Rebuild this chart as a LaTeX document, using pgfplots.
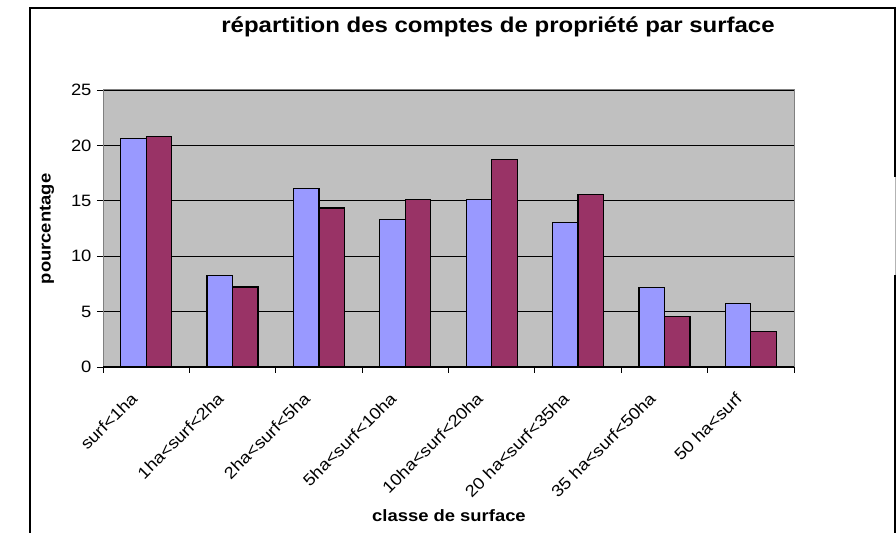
\documentclass[border=0pt]{standalone}
\usepackage{fontspec}
\setmainfont[FakeStretch=1.12]{Liberation Sans}
\usepackage{pgfplots}
\pgfplotsset{compat=1.18}

\definecolor{serieA}{HTML}{9999FF}
\definecolor{serieB}{HTML}{993366}
\definecolor{fond}{HTML}{C0C0C0}
\definecolor{bord}{HTML}{808080}

\begin{document}
\begin{tikzpicture}[x=1bp,y=1bp]
\useasboundingbox (-103,-166) rectangle (793,367);
% cadre du graphique
\draw[line width=1.5bp] (-73,-170) -- (-73,359) -- (792,359) -- (792,190);
\draw[line width=1bp, bord!60] (792,190) -- (792,92);
\draw[line width=1.5bp] (792,92) -- (792,-170);

\begin{axis}[
    at={(0,0)}, anchor=south west,
    scale only axis,
    width=691bp, height=277bp,
    ybar=0pt, bar width=25.5bp,
    xmin=-0.5, xmax=7.5,
    ymin=0, ymax=25,
    ytick={0,5,...,25},
    xtick={0,...,7},
    xticklabels={surf<1ha, 1ha<surf<2ha, 2ha<surf<5ha, 5ha<surf<10ha,
        10ha<surf<20ha, 20 ha<surf<35ha, 35 ha<surf<50ha, 50 ha<surf},
    minor xtick={-0.5,0.5,...,7.5},
    major x tick style={draw=none},
    xtick pos=bottom, ytick pos=left,
    tick align=outside,
    major tick length=6bp, minor tick length=6bp,
    tick style={black, line width=0.8bp},
    ymajorgrids,
    grid style={black, line width=0.8bp},
    axis background/.style={fill=fond},
    axis line style={bord, line width=1bp},
    /pgf/number format/assume math mode=true,
    yticklabel style={font=\fontsize{16.5}{18}\selectfont, xshift=-2bp},
    xticklabel style={font=\fontsize{16.5}{18}\selectfont, rotate=45, anchor=north east, xshift=-21bp, yshift=2bp},
    every axis plot/.append style={draw=black, line width=1.2bp},
]
\addplot[fill=serieA, draw=black] coordinates {
    (0,20.6) (1,8.24) (2,16.1) (3,13.3) (4,15.1) (5,13.05) (6,7.2) (7,5.72)
};
\addplot[fill=serieB, draw=black] coordinates {
    (0,20.8) (1,7.22) (2,14.35) (3,15.1) (4,18.7) (5,15.55) (6,4.55) (7,3.23)
};
\end{axis}
\draw[black, line width=1bp] (0,0) -- (691,0);

\node[font=\fontsize{21.5}{24}\selectfont\bfseries] at (395,340) {répartition des comptes de propriété par surface};
\node[font=\fontsize{16.5}{19}\selectfont\bfseries, rotate=90] at (-56,138) {pourcentage};
\node[font=\fontsize{16.5}{19}\selectfont\bfseries] at (346,-149) {classe de surface};
\end{tikzpicture}
\end{document}
